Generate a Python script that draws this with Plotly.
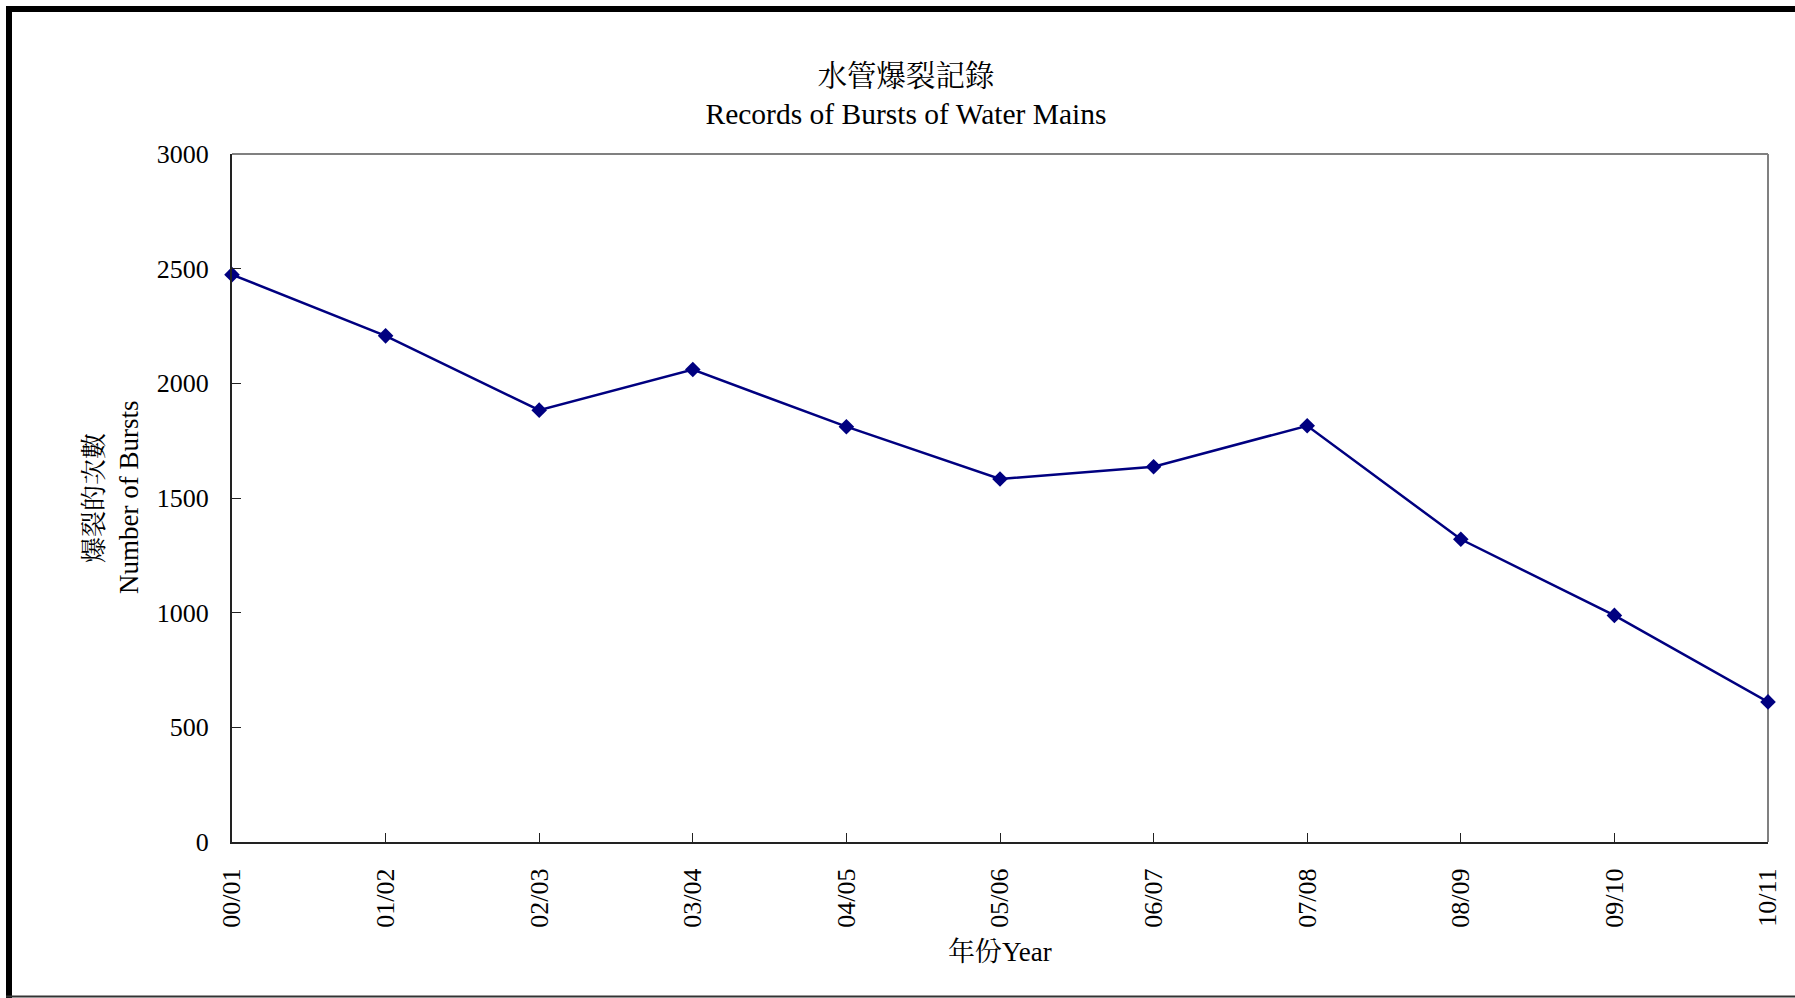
import plotly.graph_objects as go

years = ["00/01", "01/02", "02/03", "03/04", "04/05", "05/06",
         "06/07", "07/08", "08/09", "09/10", "10/11"]
bursts = [2474, 2207, 1883, 2060, 1811, 1583, 1636, 1815, 1320, 988, 611]
y_ticks = [0, 500, 1000, 1500, 2000, 2500, 3000]

title_zh = "水管爆裂記錄"
title_en = "Records of Bursts of Water Mains"
ytitle_zh = "爆裂的次數"
ytitle_en = "Number of Bursts"
xtitle = "年份Year"

FONT = "Liberation Serif, 'Times New Roman', 'Noto Serif CJK TC', 'Noto Sans CJK TC', serif"
W, H = 1795, 998
L, R, T, B = 232, 27, 154, 156
pw, ph = W - L - R, H - T - B


def px_x(p):
    return (p - L) / pw


def px_y(p):
    return 1 - (p - T) / ph


fig = go.Figure()
fig.add_trace(go.Scatter(
    x=list(range(len(years))), y=bursts, mode="lines+markers",
    line=dict(color="#000080", width=2.5),
    marker=dict(symbol="diamond", size=12, color="#000080"),
    cliponaxis=False, showlegend=False,
))

fig.update_layout(
    width=W, height=H,
    margin=dict(l=L, r=R, t=T, b=B, pad=0),
    paper_bgcolor="white", plot_bgcolor="white",
    font=dict(family=FONT, size=26, color="black"),
    title=dict(text=title_zh + "<br>" + title_en,
               x=906 / W, xanchor="center", xref="container",
               y=1 - 86 / H, yanchor="top", yref="container",
               font=dict(family=FONT, size=29.5, color="black")),
    xaxis=dict(
        range=[0, len(years) - 1],
        tickmode="array", tickvals=list(range(len(years))), ticktext=years,
        tickangle=-90, ticks="inside", ticklen=9, tickwidth=1, tickcolor="#222",
        showline=True, linecolor="#222", linewidth=2,
        showgrid=False, zeroline=False, ticklabelstandoff=14,
        tickfont=dict(family=FONT, size=26),
    ),
    yaxis=dict(
        range=[0, 3000], tickmode="array", tickvals=y_ticks,
        ticks="inside", ticklen=9, tickwidth=1, tickcolor="#222",
        showline=True, linecolor="#222", linewidth=2,
        showgrid=False, zeroline=False, ticklabelstandoff=16,
        tickfont=dict(family=FONT, size=26),
    ),
    shapes=[
        dict(type="line", xref="paper", yref="paper", x0=0, x1=1, y0=1, y1=1,
             line=dict(color="#808080", width=2), layer="below"),
        dict(type="line", xref="paper", yref="paper", x0=1, x1=1, y0=0, y1=1,
             line=dict(color="#808080", width=2), layer="below"),
        dict(type="line", xref="paper", yref="paper",
             x0=px_x(9), x1=px_x(9), y0=px_y(6), y1=px_y(998),
             line=dict(color="black", width=6)),
        dict(type="line", xref="paper", yref="paper",
             x0=px_x(6), x1=px_x(1800), y0=px_y(9), y1=px_y(9),
             line=dict(color="black", width=6)),
        dict(type="line", xref="paper", yref="paper",
             x0=px_x(6), x1=px_x(1800), y0=px_y(996.5), y1=px_y(996.5),
             line=dict(color="#333", width=2)),
    ],
    annotations=[
        dict(text=ytitle_zh, xref="paper", yref="paper", x=px_x(94), y=0.5,
             textangle=-90, showarrow=False, xanchor="center", yanchor="middle",
             font=dict(family=FONT, size=26, color="black")),
        dict(text=ytitle_en, xref="paper", yref="paper", x=px_x(129), y=0.5,
             textangle=-90, showarrow=False, xanchor="center", yanchor="middle",
             font=dict(family=FONT, size=27, color="black")),
        dict(text=xtitle, xref="paper", yref="paper", x=0.5, y=px_y(952),
             showarrow=False, xanchor="center", yanchor="middle",
             font=dict(family=FONT, size=27, color="black")),
    ],
)

fig.write_html("out.html", config={"displayModeBar": False})
